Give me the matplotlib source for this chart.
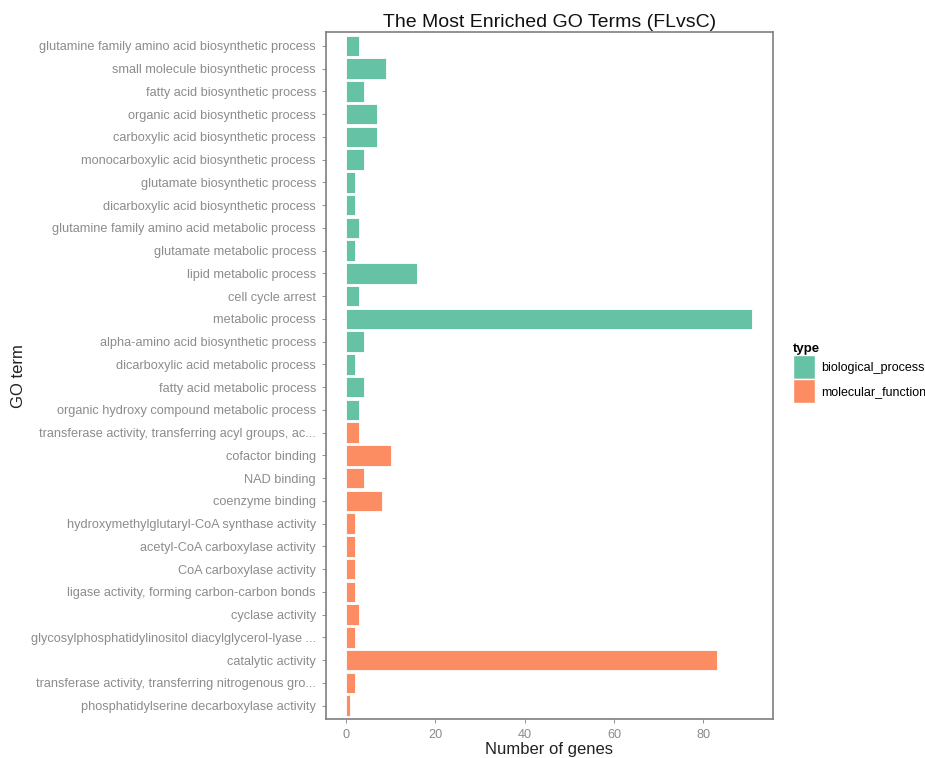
import numpy as np
import matplotlib.pyplot as plt
from matplotlib.patches import Patch

plt.rcParams['font.family'] = ['Liberation Sans', 'DejaVu Sans']

# GO terms, top to bottom as drawn
terms = [
    "glutamine family amino acid biosynthetic process",
    "small molecule biosynthetic process",
    "fatty acid biosynthetic process",
    "organic acid biosynthetic process",
    "carboxylic acid biosynthetic process",
    "monocarboxylic acid biosynthetic process",
    "glutamate biosynthetic process",
    "dicarboxylic acid biosynthetic process",
    "glutamine family amino acid metabolic process",
    "glutamate metabolic process",
    "lipid metabolic process",
    "cell cycle arrest",
    "metabolic process",
    "alpha-amino acid biosynthetic process",
    "dicarboxylic acid metabolic process",
    "fatty acid metabolic process",
    "organic hydroxy compound metabolic process",
    "transferase activity, transferring acyl groups, ac...",
    "cofactor binding",
    "NAD binding",
    "coenzyme binding",
    "hydroxymethylglutaryl-CoA synthase activity",
    "acetyl-CoA carboxylase activity",
    "CoA carboxylase activity",
    "ligase activity, forming carbon-carbon bonds",
    "cyclase activity",
    "glycosylphosphatidylinositol diacylglycerol-lyase ...",
    "catalytic activity",
    "transferase activity, transferring nitrogenous gro...",
    "phosphatidylserine decarboxylase activity",
]
counts = [3, 9, 4, 7, 7, 4, 2, 2, 3, 2, 16, 3, 91, 4, 2, 4, 3,
          3, 10, 4, 8, 2, 2, 2, 2, 3, 2, 83, 2, 1]
types = ["biological_process"] * 17 + ["molecular_function"] * 13

type_colors = {"biological_process": "#66C2A5", "molecular_function": "#FC8D62"}

fig = plt.figure(figsize=(9.25, 7.58), dpi=100)
ax = fig.add_axes([0.3521, 0.0511, 0.4833, 0.9063])

ypos = np.arange(len(terms))[::-1]
cols = [type_colors[t] for t in types]
ax.barh(ypos, counts, height=0.9, color=cols, edgecolor="white", linewidth=0.6)

xmax = max(counts)
ax.set_xlim(-0.05 * xmax, 1.05 * xmax)
ax.set_ylim(-0.6, len(terms) - 0.4)
ax.set_yticks(ypos)
ax.set_yticklabels(terms)
ax.set_xticks([0, 20, 40, 60, 80])

grey = "#8c8c8c"
ax.tick_params(axis="both", colors="#7f7f7f", labelcolor=grey, labelsize=9.2,
               length=3, width=0.6, pad=4)
for s in ax.spines.values():
    s.set_color("#7f7f7f")
    s.set_linewidth(1.2)

ax.set_xlabel("Number of genes", fontsize=12, color="#222222", labelpad=1)
ax.set_ylabel("GO term", fontsize=12, color="#222222")
ax.yaxis.set_label_coords(-0.67, 0.5)
ax.set_title("The Most Enriched GO Terms (FLvsC)", fontsize=14, color="#111111", pad=4)

handles = [Patch(facecolor=c, edgecolor="white", label=k) for k, c in type_colors.items()]
leg = fig.legend(handles=handles, title="type", loc="upper left",
                 bbox_to_anchor=(0.857, 0.547), frameon=False, fontsize=9,
                 handlelength=1.8, handleheight=2.55, handletextpad=0.45,
                 labelspacing=0.0, borderaxespad=0, borderpad=0)
leg.get_title().set_fontweight("bold")
leg.get_title().set_fontsize(9.5)
leg._legend_box.align = "left"

plt.savefig("out.png", dpi=100)
